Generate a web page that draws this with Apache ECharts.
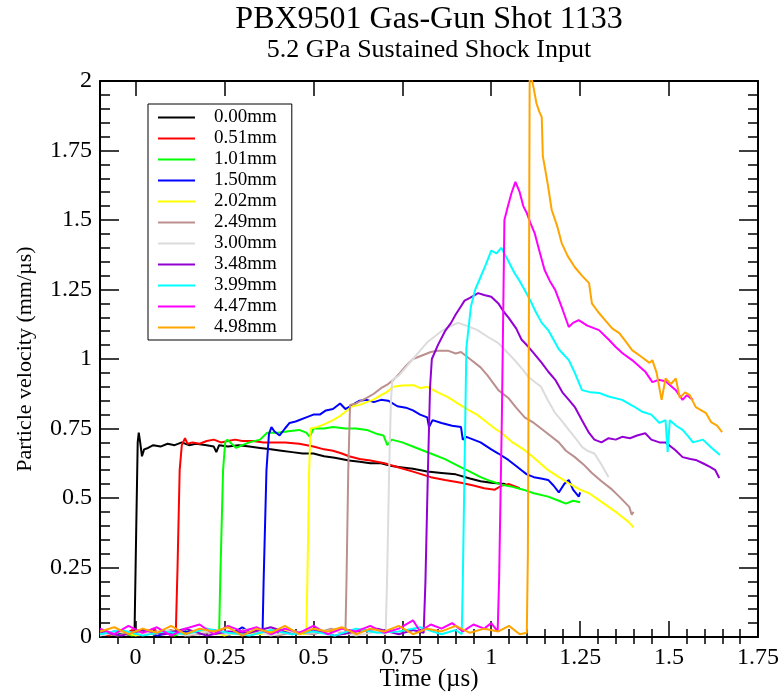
<!DOCTYPE html>
<html>
<head>
<meta charset="utf-8">
<title>PBX9501 Gas-Gun Shot 1133</title>
<script src="https://cdn.jsdelivr.net/npm/echarts@6/dist/echarts.min.js"></script>
<style>
  html, body { margin: 0; padding: 0; background: #fff; }
  #main { width: 781px; height: 692px; }
</style>
</head>
<body>
<div id="main"></div>
<script>
// gauge depths, as in the legend
var gaugeNames = ['0.00mm', '0.51mm', '1.01mm', '1.50mm', '2.02mm', '2.49mm', '3.00mm', '3.48mm', '3.99mm', '4.47mm', '4.98mm'];
var gaugeColors = ['#000000', '#ff0000', '#00ff00', '#0000ff', '#ffff00', '#bc8f8f', '#dcdcdc', '#9400d3', '#00ffff', '#ff00ff', '#ffa500'];

// [time (us), particle velocity (mm/us)]
var g000 = [[-0.1,0.01],[-0.08,0.02],[-0.06,0.005],[-0.04,0.018],[-0.02,0.008],[-0.008,0.02],[-0.003,0.01],
  [0.002,0.4],[0.006,0.7],[0.009,0.735],[0.013,0.70],[0.018,0.65],[0.024,0.675],[0.035,0.68],[0.05,0.69],[0.07,0.685],
  [0.09,0.695],[0.11,0.69],[0.13,0.70],[0.15,0.69],[0.17,0.695],[0.2,0.69],[0.22,0.685],[0.227,0.665],[0.235,0.69],
  [0.26,0.685],[0.29,0.69],[0.32,0.685],[0.35,0.68],[0.38,0.675],[0.41,0.67],[0.44,0.665],[0.47,0.66],[0.5,0.66],
  [0.53,0.65],[0.56,0.645],[0.6,0.635],[0.63,0.63],[0.66,0.625],[0.69,0.625],[0.72,0.615],[0.75,0.61],[0.78,0.605],
  [0.82,0.595],[0.86,0.59],[0.9,0.585],[0.94,0.57],[0.97,0.56],[1.0,0.555],[1.04,0.55]];
var g051 = [[-0.1,0.015],[-0.075,0.005],[-0.05,0.02],[-0.03,0.01],[-0.01,0.025],[0.01,0.005],[0.03,0.015],[0.05,0.03],
  [0.07,0.01],[0.09,0.02],[0.105,0.005],[0.113,0.01],
  [0.118,0.25],[0.124,0.6],[0.13,0.69],[0.139,0.715],[0.146,0.695],[0.16,0.7],[0.18,0.695],[0.2,0.705],[0.22,0.71],
  [0.24,0.7],[0.26,0.705],[0.28,0.71],[0.3,0.705],[0.33,0.705],[0.36,0.7],[0.39,0.70],[0.42,0.70],[0.46,0.695],
  [0.5,0.685],[0.53,0.675],[0.555,0.67],[0.58,0.66],[0.6,0.65],[0.63,0.64],[0.66,0.635],[0.7,0.625],[0.74,0.61],
  [0.78,0.595],[0.83,0.575],[0.87,0.565],[0.915,0.555],[0.95,0.545],[0.98,0.535],[1.01,0.53],[1.03,0.545],
  [1.05,0.55],[1.08,0.535]];
var g101 = [[-0.1,0.02],[-0.07,0.01],[-0.04,0.015],[-0.01,0.005],[0.02,0.02],[0.05,0.01],[0.08,0.025],[0.11,0.005],
  [0.14,0.02],[0.17,0.015],[0.2,0.03],[0.22,0.01],[0.235,0.015],
  [0.238,0.2],[0.246,0.6],[0.252,0.7],[0.258,0.71],[0.27,0.695],[0.283,0.68],[0.3,0.69],[0.32,0.70],[0.35,0.71],
  [0.37,0.735],[0.4,0.735],[0.43,0.74],[0.46,0.745],[0.48,0.735],[0.49,0.72],[0.5,0.75],[0.53,0.75],[0.555,0.755],
  [0.59,0.75],[0.62,0.75],[0.65,0.745],[0.68,0.73],[0.697,0.725],[0.708,0.69],[0.72,0.71],[0.75,0.70],[0.79,0.68],
  [0.83,0.66],[0.87,0.64],[0.915,0.61],[0.94,0.595],[0.97,0.575],[1.0,0.56],[1.03,0.548],[1.06,0.54],[1.09,0.53],
  [1.12,0.517],[1.16,0.505],[1.19,0.49],[1.21,0.48],[1.23,0.49],[1.25,0.485]];
var g150 = [[-0.1,0.005],[-0.06,0.02],[-0.02,0.01],[0.02,0.025],[0.06,0.005],[0.1,0.015],[0.14,0.02],[0.18,0.01],
  [0.22,0.025],[0.26,0.005],[0.3,0.035],[0.33,0.01],[0.357,0.015],
  [0.36,0.2],[0.368,0.6],[0.375,0.73],[0.382,0.755],[0.39,0.74],[0.405,0.725],[0.42,0.75],[0.433,0.77],[0.45,0.775],
  [0.48,0.79],[0.5,0.80],[0.518,0.80],[0.535,0.815],[0.555,0.82],[0.575,0.84],[0.59,0.82],[0.61,0.835],[0.63,0.85],
  [0.65,0.853],[0.67,0.845],[0.69,0.853],[0.71,0.85],[0.736,0.83],[0.76,0.825],[0.78,0.815],[0.8,0.80],[0.82,0.79],
  [0.825,0.755],[0.835,0.78],[0.86,0.77],[0.89,0.76],[0.915,0.755],[0.92,0.71],[0.93,0.72],[0.97,0.70],[1.0,0.675],
  [1.02,0.66],[1.048,0.637],[1.07,0.615],[1.085,0.60],[1.1,0.585],[1.12,0.575],[1.14,0.57],[1.16,0.565],[1.175,0.545],
  [1.19,0.52],[1.205,0.55],[1.218,0.565],[1.23,0.53],[1.246,0.505],[1.25,0.52]];
var g202 = [[-0.1,0.01],[-0.05,0.02],[0.0,0.005],[0.05,0.015],[0.1,0.02],[0.15,0.01],[0.2,0.025],[0.25,0.005],
  [0.3,0.02],[0.35,0.01],[0.4,0.03],[0.45,0.015],[0.48,0.01],
  [0.483,0.2],[0.488,0.6],[0.492,0.75],[0.51,0.755],[0.53,0.765],[0.555,0.78],[0.575,0.795],[0.59,0.81],[0.61,0.83],
  [0.63,0.835],[0.65,0.845],[0.668,0.853],[0.69,0.87],[0.705,0.88],[0.725,0.90],[0.75,0.905],[0.782,0.906],[0.8,0.895],
  [0.82,0.90],[0.85,0.88],[0.878,0.863],[0.9,0.845],[0.935,0.817],[0.96,0.80],[0.99,0.77],[1.01,0.75],[1.03,0.733],
  [1.06,0.70],[1.094,0.672],[1.12,0.645],[1.16,0.60],[1.19,0.575],[1.218,0.553],[1.25,0.53],[1.275,0.517],[1.3,0.495],
  [1.33,0.468],[1.35,0.45],[1.37,0.43],[1.385,0.415],[1.4,0.395]];
var g249 = [[-0.1,0.015],[-0.05,0.005],[0.0,0.02],[0.05,0.01],[0.1,0.025],[0.15,0.005],[0.2,0.015],[0.25,0.02],
  [0.3,0.01],[0.35,0.025],[0.4,0.005],[0.45,0.02],[0.5,0.01],[0.55,0.03],[0.59,0.01],
  [0.593,0.2],[0.598,0.6],[0.603,0.835],[0.62,0.84],[0.65,0.86],[0.67,0.875],[0.69,0.895],[0.71,0.91],[0.725,0.925],
  [0.74,0.945],[0.76,0.975],[0.78,1.0],[0.8,1.01],[0.83,1.025],[0.85,1.03],[0.878,1.03],[0.9,1.02],[0.915,1.025],
  [0.94,1.0],[0.97,0.97],[0.99,0.94],[1.02,0.888],[1.048,0.86],[1.07,0.825],[1.094,0.79],[1.12,0.77],[1.15,0.74],
  [1.19,0.70],[1.21,0.67],[1.235,0.647],[1.26,0.62],[1.283,0.59],[1.31,0.56],[1.34,0.53],[1.36,0.505],[1.388,0.468],
  [1.395,0.44],[1.40,0.45]];
var g300 = [[-0.1,0.005],[-0.04,0.02],[0.02,0.01],[0.08,0.025],[0.14,0.005],[0.2,0.02],[0.26,0.01],[0.32,0.03],
  [0.38,0.005],[0.44,0.02],[0.5,0.015],[0.56,0.025],[0.62,0.005],[0.68,0.02],[0.703,0.01],
  [0.707,0.2],[0.713,0.6],[0.718,0.85],[0.722,0.925],[0.74,0.94],[0.76,0.97],[0.78,1.0],[0.8,1.03],[0.82,1.06],
  [0.84,1.08],[0.86,1.10],[0.88,1.115],[0.906,1.13],[0.93,1.12],[0.96,1.105],[0.99,1.08],[1.02,1.057],[1.048,1.02],
  [1.07,0.99],[1.09,0.96],[1.105,0.935],[1.12,0.92],[1.14,0.90],[1.16,0.85],[1.18,0.805],[1.2,0.775],[1.218,0.745],
  [1.24,0.71],[1.255,0.684],[1.27,0.67],[1.29,0.66],[1.31,0.62],[1.33,0.575]];
var g348 = [[-0.1,0.02],[-0.04,0.005],[0.02,0.025],[0.08,0.01],[0.14,0.03],[0.2,0.005],[0.26,0.02],[0.32,0.015],
  [0.38,0.035],[0.44,0.01],[0.5,0.025],[0.56,0.005],[0.62,0.02],[0.68,0.03],[0.74,0.01],[0.78,0.025],[0.81,0.015],
  [0.815,0.2],[0.822,0.6],[0.828,0.9],[0.833,1.0],[0.85,1.05],[0.87,1.10],[0.887,1.13],[0.9,1.16],[0.915,1.19],
  [0.925,1.21],[0.94,1.22],[0.963,1.237],[0.98,1.23],[1.0,1.224],[1.02,1.20],[1.035,1.17],[1.048,1.15],[1.07,1.11],
  [1.085,1.07],[1.105,1.043],[1.12,1.02],[1.142,0.986],[1.16,0.955],[1.18,0.925],[1.2,0.88],[1.22,0.85],[1.235,0.827],
  [1.255,0.78],[1.275,0.734],[1.29,0.71],[1.31,0.70],[1.33,0.715],[1.35,0.71],[1.368,0.72],[1.39,0.715],[1.41,0.725],
  [1.433,0.733],[1.45,0.71],[1.473,0.70],[1.49,0.70],[1.518,0.672],[1.538,0.647],[1.56,0.64],[1.575,0.637],
  [1.595,0.625],[1.615,0.612],[1.63,0.60],[1.641,0.572]];
var g399 = [[-0.1,0.01],[-0.04,0.025],[0.02,0.005],[0.08,0.02],[0.14,0.01],[0.2,0.03],[0.26,0.015],[0.32,0.005],
  [0.38,0.025],[0.44,0.01],[0.5,0.02],[0.56,0.005],[0.62,0.03],[0.68,0.015],[0.74,0.02],[0.8,0.035],[0.86,0.01],
  [0.9,0.025],[0.917,0.01],
  [0.92,0.2],[0.926,0.7],[0.93,1.04],[0.943,1.19],[0.955,1.25],[0.97,1.295],[0.985,1.34],[1.0,1.39],[1.015,1.38],
  [1.028,1.40],[1.045,1.36],[1.065,1.31],[1.08,1.28],[1.094,1.248],[1.11,1.21],[1.125,1.17],[1.142,1.13],[1.16,1.104],
  [1.19,1.035],[1.218,0.996],[1.235,0.95],[1.255,0.888],[1.28,0.88],[1.303,0.878],[1.33,0.865],[1.368,0.853],
  [1.4,0.83],[1.425,0.81],[1.45,0.80],[1.473,0.77],[1.49,0.78],[1.496,0.666],[1.502,0.78],[1.52,0.76],[1.538,0.745],
  [1.555,0.72],[1.567,0.70],[1.595,0.71],[1.62,0.68],[1.643,0.655]];
var g447 = [[-0.1,0.03],[-0.06,0.01],[-0.02,0.04],[0.02,0.015],[0.06,0.035],[0.1,0.005],[0.14,0.03],[0.18,0.045],
  [0.22,0.01],[0.26,0.04],[0.3,0.02],[0.34,0.035],[0.38,0.01],[0.42,0.03],[0.46,0.015],[0.5,0.04],[0.54,0.01],
  [0.58,0.03],[0.62,0.02],[0.66,0.04],[0.7,0.015],[0.74,0.03],[0.78,0.06],[0.8,0.02],[0.83,0.045],[0.86,0.03],
  [0.89,0.05],[0.92,0.02],[0.95,0.045],[0.98,0.03],[1.0,0.05],[1.018,0.02],
  [1.022,0.2],[1.03,0.8],[1.037,1.50],[1.047,1.55],[1.057,1.597],[1.068,1.637],[1.08,1.60],[1.09,1.55],[1.10,1.525],
  [1.11,1.49],[1.122,1.453],[1.135,1.39],[1.15,1.32],[1.165,1.28],[1.18,1.248],[1.2,1.18],[1.218,1.115],[1.23,1.13],
  [1.246,1.14],[1.27,1.12],[1.303,1.104],[1.33,1.07],[1.35,1.043],[1.37,1.02],[1.396,0.996],[1.415,0.975],
  [1.434,0.953],[1.453,0.917],[1.47,0.925],[1.49,0.92],[1.519,0.888],[1.538,0.853],[1.55,0.87],[1.567,0.853]];
var g498 = [[-0.1,0.02],[-0.06,0.035],[-0.02,0.01],[0.02,0.03],[0.06,0.015],[0.1,0.04],[0.14,0.01],[0.18,0.03],
  [0.22,0.02],[0.26,0.035],[0.3,0.005],[0.34,0.03],[0.38,0.015],[0.42,0.04],[0.46,0.01],[0.5,0.03],[0.54,0.02],
  [0.58,0.035],[0.62,0.01],[0.66,0.03],[0.7,0.02],[0.74,0.04],[0.78,0.01],[0.82,0.03],[0.86,0.02],[0.9,0.04],
  [0.94,0.015],[0.98,0.03],[1.02,0.02],[1.05,0.04],[1.08,0.01],[1.1,0.015],
  [1.103,0.3],[1.106,1.2],[1.108,2.0],[1.112,2.02],[1.12,1.97],[1.127,1.92],[1.135,1.89],[1.142,1.87],[1.145,1.73],
  [1.152,1.68],[1.16,1.62],[1.17,1.536],[1.185,1.48],[1.198,1.417],[1.215,1.37],[1.235,1.33],[1.255,1.30],
  [1.275,1.273],[1.283,1.20],[1.30,1.17],[1.32,1.14],[1.34,1.11],[1.36,1.093],[1.38,1.06],[1.396,1.032],[1.42,1.01],
  [1.445,0.986],[1.453,0.996],[1.465,0.95],[1.479,0.853],[1.49,0.93],[1.505,0.91],[1.519,0.93],[1.53,0.86],
  [1.545,0.88],[1.558,0.87],[1.575,0.827],[1.604,0.805],[1.618,0.773],[1.635,0.76],[1.649,0.737]];

var gaugeData = [g000, g051, g101, g150, g202, g249, g300, g348, g399, g447, g498];

var xMajorTicks = [0, 0.25, 0.5, 0.75, 1, 1.25, 1.5, 1.75];
var xMinorTicks = [-0.05, 0.05, 0.1, 0.15, 0.2, 0.3, 0.35, 0.4, 0.45, 0.55, 0.6, 0.65, 0.7, 0.8, 0.85, 0.9, 0.95,
  1.05, 1.1, 1.15, 1.2, 1.3, 1.35, 1.4, 1.45, 1.55, 1.6, 1.65, 1.7];

var serif = 'Liberation Serif';
var chart = echarts.init(document.getElementById('main'));

var series = [];
for (var i = 0; i < gaugeNames.length; i++) {
  series.push({
    name: gaugeNames[i],
    type: 'line',
    data: gaugeData[i],
    symbol: 'none',
    showSymbol: false,
    xAxisIndex: 0,
    yAxisIndex: 0,
    lineStyle: { color: gaugeColors[i], width: 2 },
    itemStyle: { color: gaugeColors[i] }
  });
}

var tickLine = { color: '#000', width: 1.5 };

var option = {
  animation: false,
  backgroundColor: '#fff',
  title: [
    { text: 'PBX9501 Gas-Gun Shot 1133', left: 429, top: 4, textAlign: 'center', padding: 0,
      textStyle: { fontFamily: serif, fontSize: 32, fontWeight: 'normal', color: '#000' } },
    { text: '5.2 GPa Sustained Shock Input', left: 429, top: 37, textAlign: 'center', padding: 0,
      textStyle: { fontFamily: serif, fontSize: 26, fontWeight: 'normal', color: '#000' } }
  ],
  legend: {
    orient: 'vertical',
    left: 148,
    top: 104,
    padding: [4, 15, 3, 10],
    icon: 'rect',
    itemWidth: 37,
    itemHeight: 2,
    itemGap: 2,
    borderColor: '#000',
    borderWidth: 1,
    textStyle: { fontFamily: serif, fontSize: 19, color: '#000', padding: [0, 0, 0, 14], lineHeight: 18.7 },
    data: gaugeNames
  },
  grid: { left: 100, right: 23, top: 81, bottom: 55, outerBoundsMode: 'none' },
  xAxis: [
    { type: 'value', position: 'bottom', min: -0.1, max: 1.75,
      name: 'Time (µs)', nameLocation: 'middle', nameGap: 30, nameMoveOverlap: false,
      nameTextStyle: { fontFamily: serif, fontSize: 25, color: '#000' },
      axisLine: { show: true, onZero: false, lineStyle: { color: '#000', width: 2 } },
      axisTick: { show: true, inside: true, length: 16, customValues: xMajorTicks, lineStyle: tickLine },
      axisLabel: { customValues: xMajorTicks, fontFamily: serif, fontSize: 24, color: '#000', margin: 9 },
      splitLine: { show: false } },
    { type: 'value', position: 'bottom', min: -0.1, max: 1.75,
      axisLine: { show: false },
      axisTick: { show: true, inside: true, length: 8, customValues: xMinorTicks, lineStyle: tickLine },
      axisLabel: { show: false }, splitLine: { show: false } },
    { type: 'value', position: 'top', min: -0.1, max: 1.75,
      axisLine: { show: true, onZero: false, lineStyle: { color: '#000', width: 2 } },
      axisTick: { show: true, inside: true, length: 15, customValues: xMajorTicks, lineStyle: tickLine },
      axisLabel: { show: false }, splitLine: { show: false } },
    { type: 'value', position: 'top', min: -0.1, max: 1.75,
      axisLine: { show: false },
      axisTick: { show: true, inside: true, length: 7, customValues: xMinorTicks, lineStyle: tickLine },
      axisLabel: { show: false }, splitLine: { show: false } }
  ],
  yAxis: [
    { type: 'value', position: 'left', min: 0, max: 2, interval: 0.25,
      name: 'Particle velocity (mm/µs)', nameLocation: 'middle', nameGap: 64,
      nameTextStyle: { fontFamily: serif, fontSize: 22, color: '#000' },
      axisLine: { show: true, onZero: false, lineStyle: { color: '#000', width: 2 } },
      axisTick: { show: true, inside: true, length: 19, lineStyle: tickLine },
      minorTick: { show: true, splitNumber: 5, length: 10, lineStyle: tickLine },
      axisLabel: { fontFamily: serif, fontSize: 24, color: '#000', margin: 8 },
      splitLine: { show: false }, minorSplitLine: { show: false } },
    { type: 'value', position: 'right', min: 0, max: 2, interval: 0.25,
      axisLine: { show: true, onZero: false, lineStyle: { color: '#000', width: 2 } },
      axisTick: { show: true, inside: true, length: 19, lineStyle: tickLine },
      minorTick: { show: true, splitNumber: 5, length: 10, lineStyle: tickLine },
      axisLabel: { show: false },
      splitLine: { show: false }, minorSplitLine: { show: false } }
  ],
  series: series
};

chart.setOption(option);
</script>
</body>
</html>
